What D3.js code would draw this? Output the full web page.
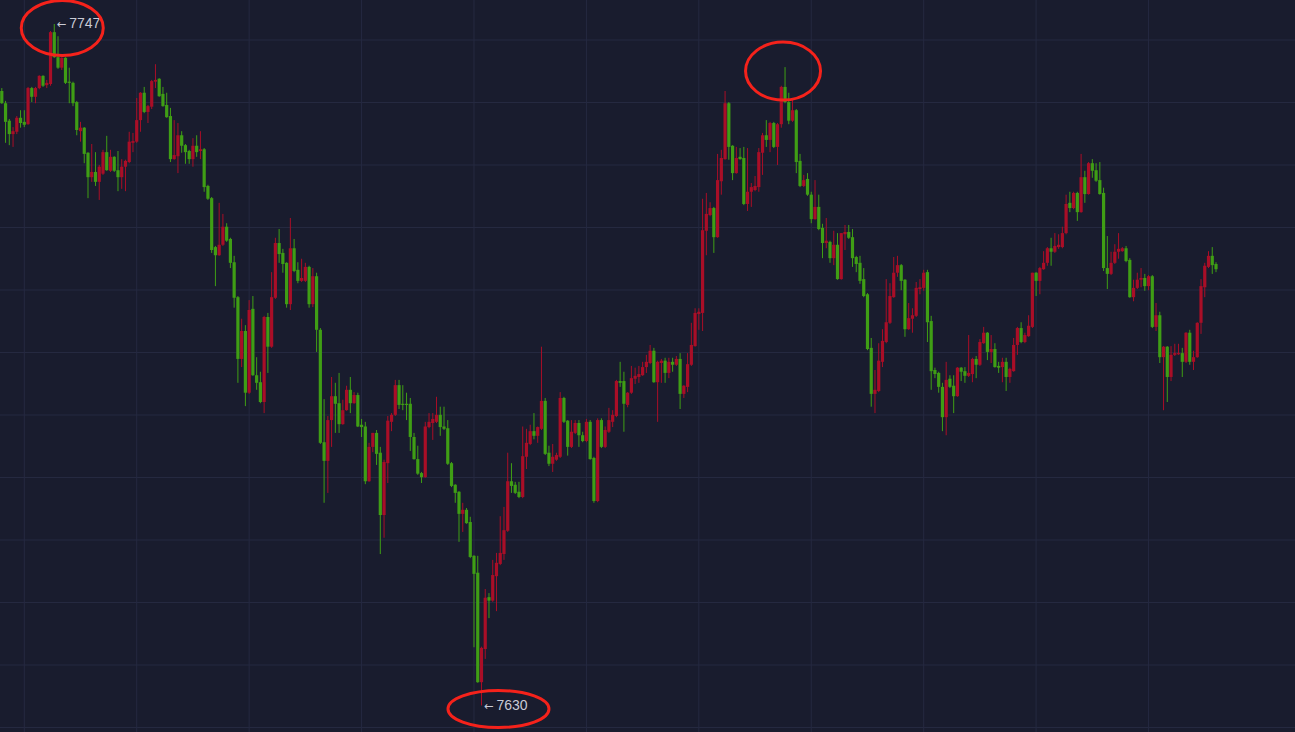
<!DOCTYPE html>
<html><head><meta charset="utf-8">
<script src="https://cdn.jsdelivr.net/npm/d3@7"></script>
<style>html,body{margin:0;padding:0;background:#191c2e;overflow:hidden}</style>
</head><body><svg id="chart" width="1295" height="732"></svg>
<script>
// each candle: [open, high, low, close]
const ohlc = [
[7735.5,7736.0,7733.3,7733.4],[7733.4,7733.8,7726.6,7730.2],[7730.4,7730.7,7726.2,7728.1],[7728.1,7729.3,7725.9,7728.6],
[7728.5,7731.2,7728.1,7730.9],[7730.9,7732.2,7729.2,7730.0],[7730.2,7732.2,7729.3,7729.7],[7729.8,7736.2,7729.7,7736.0],
[7736.0,7736.2,7733.6,7734.5],[7734.5,7736.2,7733.4,7736.0],[7736.0,7738.2,7735.8,7738.1],[7738.1,7738.2,7736.2,7736.4],
[7736.5,7737.4,7736.0,7736.9],[7736.7,7745.8,7736.4,7745.6],[7745.6,7747.0,7741.2,7741.3],[7741.3,7744.9,7739.3,7739.5],
[7739.5,7741.3,7739.1,7741.2],[7741.2,7741.3,7736.7,7736.9],[7737.1,7739.5,7733.4,7736.9],[7736.9,7737.1,7732.9,7733.4],
[7733.6,7733.8,7727.9,7728.8],[7728.6,7730.2,7726.8,7729.2],[7729.2,7729.3,7723.1,7724.7],[7724.9,7725.0,7717.1,7720.7],
[7720.7,7726.4,7719.9,7721.6],[7721.6,7725.0,7719.2,7719.9],[7719.9,7722.8,7716.8,7722.5],[7721.3,7725.4,7721.1,7725.0],
[7725.0,7727.8,7721.8,7721.9],[7721.8,7725.4,7721.6,7724.2],[7724.2,7724.3,7721.6,7721.8],[7721.9,7725.2,7718.3,7720.7],
[7720.7,7723.8,7718.7,7722.5],[7722.5,7723.7,7718.3,7723.5],[7723.3,7728.5,7723.1,7726.8],[7726.6,7728.3,7725.0,7726.9],
[7726.8,7734.3,7726.6,7730.5],[7730.5,7735.3,7728.5,7735.2],[7735.2,7736.2,7731.7,7731.9],[7731.9,7733.1,7730.0,7732.9],
[7732.8,7737.4,7732.4,7737.2],[7737.1,7740.1,7736.0,7737.4],[7737.6,7737.7,7734.5,7734.6],[7735.0,7736.2,7732.8,7732.9],
[7733.1,7735.2,7730.9,7731.0],[7731.2,7732.6,7723.3,7723.8],[7723.8,7730.5,7723.7,7724.5],[7724.3,7730.0,7721.4,7727.9],
[7727.9,7728.6,7724.9,7726.1],[7726.2,7726.4,7723.0,7725.0],[7725.2,7725.4,7723.0,7723.8],[7723.8,7727.4,7722.5,7726.1],
[7726.1,7727.9,7724.2,7725.0],[7725.2,7728.6,7723.8,7725.5],[7725.5,7725.7,7718.2,7719.0],[7719.2,7719.4,7716.8,7717.0],
[7717.1,7717.3,7707.7,7708.2],
[7708.7,7708.9,7702.0,7707.3],[7707.3,7716.3,7707.2,7709.1],[7709.1,7714.4,7708.9,7712.2],[7712.2,7712.8,7709.6,7709.8],
[7710.1,7710.3,7705.1,7706.0],[7706.1,7707.2,7698.3,7700.0],[7700.1,7700.3,7685.4,7689.5],[7689.5,7696.4,7688.1,7694.3],
[7694.3,7695.3,7681.4,7683.7],[7683.7,7699.6,7683.5,7697.9],[7698.1,7700.3,7686.6,7686.7],[7686.7,7689.8,7684.2,7685.4],
[7685.5,7687.3,7681.9,7682.1],[7682.1,7696.9,7680.2,7696.7],[7696.7,7697.4,7687.1,7691.6],[7691.6,7704.4,7691.4,7700.1],
[7700.0,7710.3,7699.8,7709.4],[7709.4,7711.8,7706.0,7707.5],[7707.7,7708.4,7704.3,7705.8],[7706.0,7706.1,7698.3,7698.9],
[7698.9,7713.7,7697.9,7708.5],[7708.5,7710.1,7704.4,7704.6],[7704.8,7706.1,7702.5,7702.9],[7702.9,7706.7,7702.7,7703.4],
[7702.9,7706.0,7702.7,7705.3],[7705.3,7705.5,7698.3,7698.9],[7698.9,7705.1,7698.4,7703.7],[7703.7,7704.3,7690.7,7694.5],
[7694.5,7694.8,7674.9,7675.1],[7675.2,7682.6,7664.8,7672.0],[7672.0,7679.7,7666.5,7679.0],[7679.0,7686.4,7674.4,7683.1],
[7683.1,7685.4,7676.8,7681.8],[7681.9,7687.1,7676.8,7678.3],[7678.3,7682.5,7678.2,7680.7],[7680.7,7684.9,7680.6,7684.2],
[7684.2,7686.4,7680.2,7681.9],[7681.9,7683.8,7681.8,7683.3],[7683.3,7683.7,7677.8,7677.9],[7678.2,7679.2,7676.1,7677.8],
[7677.9,7678.7,7668.0,7668.5],[7668.5,7675.1,7668.4,7674.4],[7674.4,7676.8,7673.5,7676.8],[7676.8,7677.3,7671.3,7673.2],
[7673.4,7674.4,7656.0,7662.7],[7662.7,7672.2,7658.8,7671.8],[7671.6,7679.7,7668.2,7678.9],[7678.7,7680.2,7677.1,7679.9],
[7679.9,7685.9,7679.7,7685.0],[7685.0,7685.9,7680.9,7681.6],[7681.8,7685.0,7680.7,7681.6],[7681.8,7683.7,7679.0,7681.6],
[7681.8,7682.8,7673.7,7676.1],
[7676.1,7676.8,7672.2,7672.3],[7672.3,7674.6,7669.6,7669.8],[7669.9,7670.1,7668.2,7669.2],[7669.2,7678.7,7669.1,7677.9],
[7677.8,7680.2,7677.6,7678.7],[7678.5,7680.2,7675.6,7679.2],[7678.7,7683.0,7678.5,7679.9],[7679.9,7681.3,7676.3,7677.8],
[7677.9,7681.3,7677.3,7677.5],[7677.6,7679.0,7671.3,7671.5],[7671.6,7671.8,7667.5,7667.7],[7667.9,7668.0,7664.8,7666.5],
[7666.7,7666.8,7658.1,7662.9],[7662.9,7664.8,7659.8,7663.6],[7663.6,7663.9,7661.2,7661.3],[7661.5,7662.4,7655.3,7655.5],
[7655.7,7655.8,7640.0,7652.6],[7652.8,7655.7,7633.9,7634.0],[7634.0,7640.1,7630.0,7639.9],[7639.7,7650.0,7638.0,7648.5],
[7648.6,7649.3,7645.0,7648.0],[7648.0,7655.0,7647.8,7652.4],[7652.2,7656.2,7646.2,7654.5],[7654.3,7662.5,7654.1,7656.2],
[7656.0,7664.1,7655.0,7660.1],[7660.0,7673.4,7659.8,7668.5],[7668.5,7671.6,7666.5,7667.7],[7667.9,7668.4,7666.3,7666.5],
[7666.7,7668.4,7665.6,7665.8],[7665.8,7677.9,7665.6,7672.8],[7672.7,7677.5,7670.6,7675.1],[7674.9,7678.2,7674.7,7677.1],
[7677.1,7680.2,7675.7,7676.3],[7676.3,7677.9,7675.1,7677.8],[7677.5,7691.6,7677.3,7682.3],[7682.3,7682.8,7673.0,7673.2],
[7673.4,7674.6,7671.1,7671.5],[7671.5,7674.9,7670.1,7672.7],[7672.2,7673.4,7672.0,7673.0],[7672.7,7683.8,7672.5,7682.8],
[7682.8,7683.0,7678.5,7678.7],[7678.9,7679.0,7672.9,7674.4],[7674.4,7679.0,7674.2,7677.0],[7676.8,7679.0,7676.6,7678.5],
[7678.5,7679.0,7674.4,7676.4],[7676.4,7677.0,7675.2,7675.4],[7675.4,7679.2,7675.2,7678.7],[7678.7,7679.0,7672.2,7672.3],
[7672.5,7672.7,7664.8,7665.1],[7665.1,7679.3,7664.9,7679.0],[7679.0,7679.3,7674.2,7674.4],[7674.4,7677.9,7674.2,7677.3],
[7677.0,7681.1,7676.8,7679.0],
[7678.7,7680.7,7677.8,7679.9],[7679.7,7685.9,7679.5,7685.7],[7685.7,7689.0,7684.7,7685.4],[7685.7,7687.3,7677.0,7681.8],
[7681.6,7683.8,7681.2,7683.7],[7683.7,7688.3,7683.5,7686.2],[7686.1,7688.0,7685.2,7686.6],[7686.4,7688.3,7685.4,7686.9],
[7686.7,7689.0,7686.6,7688.1],[7688.1,7690.2,7687.1,7689.0],[7688.8,7691.9,7688.6,7690.9],[7690.9,7691.4,7685.4,7685.5],
[7685.5,7689.2,7678.7,7689.0],[7688.8,7689.5,7685.4,7689.2],[7689.2,7689.7,7685.4,7687.1],[7687.1,7689.7,7686.2,7689.0],
[7689.0,7689.7,7687.3,7688.5],[7688.5,7690.0,7688.3,7689.5],[7689.5,7690.5,7680.9,7683.5],[7683.5,7685.0,7682.8,7684.9],
[7684.7,7690.5,7683.8,7688.6],[7688.5,7695.7,7688.3,7691.9],[7691.7,7698.2,7691.6,7697.4],[7697.2,7698.2,7694.5,7697.6],
[7697.4,7717.0,7694.3,7711.6],[7711.5,7718.0,7707.3,7714.4],[7714.2,7716.4,7714.0,7715.4],[7715.4,7715.6,7707.7,7710.4],
[7710.4,7724.7,7710.3,7720.2],[7720.0,7725.4,7717.7,7724.0],[7723.8,7735.5,7723.7,7733.4],[7733.4,7733.6,7723.7,7725.9],
[7726.1,7726.2,7720.2,7721.4],[7721.4,7725.9,7721.3,7724.0],[7724.2,7725.7,7723.7,7723.8],[7724.0,7725.9,7715.9,7716.1],
[7716.1,7725.7,7714.9,7718.2],[7718.2,7719.7,7715.6,7719.0],[7718.5,7720.9,7718.3,7719.2],[7719.0,7725.7,7718.2,7725.0],
[7724.9,7728.3,7721.1,7727.9],[7727.9,7730.5,7725.9,7727.1],[7727.1,7730.2,7725.0,7730.0],[7730.0,7730.2,7725.7,7725.9],
[7725.9,7730.0,7722.8,7729.8],[7729.8,7736.4,7729.2,7736.2],[7736.2,7739.6,7733.4,7733.6],[7733.6,7735.2,7729.8,7730.4],
[7730.4,7734.0,7730.2,7732.2],[7732.2,7732.4,7721.4,7723.3],[7723.5,7724.7,7719.0,7719.2],[7719.2,7721.1,7719.0,7720.2],
[7720.4,7721.4,7717.5,7717.7],[7717.7,7718.2,7712.8,7713.5],
[7713.5,7720.2,7713.4,7715.6],[7715.6,7717.7,7711.6,7711.8],[7712.0,7712.7,7706.8,7709.4],[7709.4,7713.7,7708.5,7709.8],
[7709.6,7709.8,7706.0,7706.8],[7706.8,7711.5,7705.6,7709.1],[7709.1,7711.1,7703.1,7703.2],[7703.2,7711.1,7703.1,7711.1],
[7710.9,7712.5,7708.2,7711.3],[7711.3,7712.5,7710.1,7710.3],[7710.4,7711.8,7705.3,7706.8],[7707.0,7707.2,7704.4,7705.8],
[7706.0,7707.2,7702.4,7702.9],[7703.2,7705.1,7700.1,7700.3],[7700.6,7700.8,7691.0,7691.2],[7691.4,7693.1,7681.3,7683.5],
[7683.5,7687.6,7680.2,7684.2],[7684.0,7692.2,7683.8,7689.2],[7689.0,7694.6,7688.1,7692.6],[7692.4,7703.2,7692.2,7695.8],
[7695.7,7702.5,7695.5,7700.3],[7700.1,7707.0,7700.0,7704.3],[7704.3,7707.2,7703.6,7705.6],[7705.6,7705.8,7701.3,7702.9],
[7703.1,7703.2,7693.3,7694.6],[7694.6,7699.1,7694.5,7696.5],[7696.4,7698.2,7694.0,7697.0],[7696.9,7702.7,7696.7,7701.7],
[7701.5,7703.2,7700.6,7701.8],[7701.7,7704.8,7701.2,7704.3],[7704.4,7704.8,7692.4,7695.8],[7696.0,7696.9,7684.2,7687.4],
[7687.6,7688.0,7686.2,7686.9],[7687.1,7687.3,7683.7,7684.7],[7684.7,7685.4,7677.1,7679.5],[7679.5,7689.0,7676.4,7685.9],
[7686.1,7686.7,7684.5,7684.7],[7684.9,7686.7,7680.2,7683.1],[7683.1,7688.1,7683.0,7688.0],[7688.0,7688.1,7685.7,7687.3],
[7687.4,7688.1,7685.4,7686.6],[7686.6,7693.6,7686.4,7687.1],[7686.9,7689.7,7685.5,7689.5],[7689.5,7690.0,7686.2,7688.5],
[7688.5,7692.9,7688.3,7692.4],[7692.2,7695.0,7692.1,7694.0],[7694.0,7694.1,7689.3,7690.7],[7690.7,7693.6,7688.8,7691.2],
[7691.2,7692.2,7688.0,7688.1],[7688.3,7689.0,7687.1,7688.0],[7688.1,7689.7,7685.5,7689.0],[7689.0,7689.7,7684.0,7686.4],
[7686.4,7688.0,7685.4,7687.8],
[7687.4,7693.1,7687.3,7691.9],[7691.9,7695.0,7690.2,7694.8],[7694.8,7695.8,7692.2,7692.4],[7692.4,7694.0,7692.2,7693.6],
[7693.4,7697.0,7693.3,7695.2],[7695.0,7704.3,7694.8,7704.3],[7704.3,7704.4,7700.3,7702.9],[7702.9,7705.3,7700.6,7705.1],
[7704.9,7708.0,7704.8,7706.0],[7706.0,7708.7,7705.5,7708.5],[7708.5,7710.3,7705.5,7707.9],[7707.9,7711.1,7707.7,7708.9],
[7708.7,7710.9,7708.4,7709.1],[7708.7,7712.2,7708.5,7711.1],[7711.1,7717.7,7710.9,7716.1],[7716.3,7718.2,7714.7,7715.4],
[7715.4,7718.2,7715.2,7718.0],[7718.0,7718.2,7713.2,7714.7],[7714.7,7724.7,7714.6,7720.7],[7720.7,7721.8,7716.3,7717.8],
[7717.8,7723.3,7717.7,7723.1],[7723.1,7723.8,7720.6,7721.8],[7721.9,7723.1,7719.9,7720.1],[7720.2,7723.3,7717.7,7717.8],
[7718.0,7718.9,7704.6,7705.1],[7705.1,7710.6,7701.5,7704.1],[7704.1,7707.9,7703.9,7706.0],[7706.0,7709.2,7705.8,7707.9],
[7707.9,7711.1,7706.7,7708.4],[7708.0,7708.7,7707.9,7708.5],[7708.5,7708.9,7706.1,7706.3],[7706.5,7706.8,7700.0,7700.1],
[7700.1,7703.1,7699.4,7701.7],[7701.7,7704.3,7701.5,7703.1],[7703.1,7705.1,7701.8,7703.4],[7703.4,7704.1,7701.2,7702.0],
[7702.0,7703.9,7701.3,7703.7],[7703.7,7703.9,7694.8,7695.0],[7695.0,7699.1,7694.3,7697.0],[7697.0,7697.6,7688.8,7689.8],
[7689.8,7691.7,7680.7,7691.6],[7691.6,7691.7,7682.1,7686.4],[7686.4,7691.7,7685.7,7690.2],[7690.2,7692.1,7690.0,7690.5],
[7690.3,7692.1,7690.2,7690.5],[7690.5,7691.4,7686.4,7689.0],[7689.0,7694.1,7688.8,7694.0],[7694.0,7694.5,7688.5,7689.0],
[7689.0,7690.9,7687.6,7689.8],[7689.8,7695.8,7689.7,7695.7],[7695.7,7703.2,7693.8,7702.0],[7701.8,7706.0,7700.1,7705.5],
[7705.3,7708.0,7705.1,7707.2],[7707.2,7708.7,7704.1,7705.6],[7705.8,7706.1,7704.4,7704.9]
];
const candleIndex = ohlc.map((d, i) => i);

const W = 1295, H = 732;
const COLORS = { bg: "#191c2e", grid: "#252940", up: "#a90e27", down: "#3f9e15", label: "#c9cbd6", mark: "#f5221b" };

const svg = d3.select("#chart");
svg.append("rect").attr("width", W).attr("height", H).attr("fill", COLORS.bg);

const maxHigh = d3.max(ohlc, d => d[1]);
const minLow = d3.min(ohlc, d => d[2]);
const x = d3.scaleLinear().domain([0, ohlc.length - 1]).range([1.8, 1216]);
const y = d3.scaleLinear().domain([minLow, maxHigh]).range([705.5, 24]);

// grid
const grid = svg.append("g");
grid.selectAll("line.h").data(d3.range(12).map(k => 40 + 62.5 * k)).join("line")
  .attr("x1", 0).attr("x2", W).attr("y1", d => d).attr("y2", d => d)
  .attr("stroke", COLORS.grid).attr("stroke-width", 1);
grid.selectAll("line.v").data(candleIndex.filter(i => i % 30 === 6)).join("line")
  .attr("x1", d => x(d)).attr("x2", d => x(d)).attr("y1", 0).attr("y2", H)
  .attr("stroke", COLORS.grid).attr("stroke-width", 1);

// candles
const bw = 3.2;
const g = svg.append("g");
const cs = g.selectAll("g.c").data(ohlc).join("g");
cs.append("rect")
  .attr("x", (d, i) => x(i) - 0.5).attr("width", 1)
  .attr("y", d => y(d[1])).attr("height", d => Math.max(1, y(d[2]) - y(d[1])))
  .attr("fill", d => d[3] >= d[0] ? COLORS.up : COLORS.down);
cs.append("rect")
  .attr("x", (d, i) => x(i) - bw / 2).attr("width", bw)
  .attr("y", d => y(Math.max(d[0], d[3])))
  .attr("height", d => Math.max(1, Math.abs(y(d[0]) - y(d[3]))))
  .attr("fill", d => d[3] >= d[0] ? COLORS.up : COLORS.down);

// extreme labels
const iMax = d3.maxIndex(ohlc, d => d[1]);
const iMin = d3.minIndex(ohlc, d => d[2]);
const fmt = d3.format(".0f");
[[iMax, maxHigh], [iMin, minLow]].forEach(([i, v]) => {
  const t = svg.append("g").attr("transform", `translate(${x(i)},${y(v)})`);
  t.append("text").attr("x", 2.5).attr("y", 0.5)
    .attr("dominant-baseline", "middle")
    .attr("font-family", "'DejaVu Sans', sans-serif").attr("font-size", 11.5)
    .attr("fill", COLORS.label).text("\u2190");
  t.append("text").attr("x", 15).attr("y", 0.5)
    .attr("dominant-baseline", "middle")
    .attr("font-family", "'Liberation Sans', Arial, sans-serif").attr("font-size", 14)
    .attr("fill", COLORS.label).text(fmt(v));
});

// annotation ellipses around the highs / low
const rightPeak = 150 + d3.maxIndex(ohlc.slice(150), d => d[1]);
const marks = [
  { cx: x(iMax) + 8, cy: y(maxHigh) + 4, rx: 41, ry: 27.5 },
  { cx: x(rightPeak) - 2, cy: y(ohlc[rightPeak][1]) + 4, rx: 37.5, ry: 29 },
  { cx: x(iMin) + 17, cy: y(minLow) + 3.5, rx: 50.5, ry: 18.5 }
];
svg.selectAll("ellipse").data(marks).join("ellipse")
  .attr("cx", d => d.cx).attr("cy", d => d.cy).attr("rx", d => d.rx).attr("ry", d => d.ry)
  .attr("fill", "none").attr("stroke", COLORS.mark).attr("stroke-width", 3);
</script>
</body></html>
